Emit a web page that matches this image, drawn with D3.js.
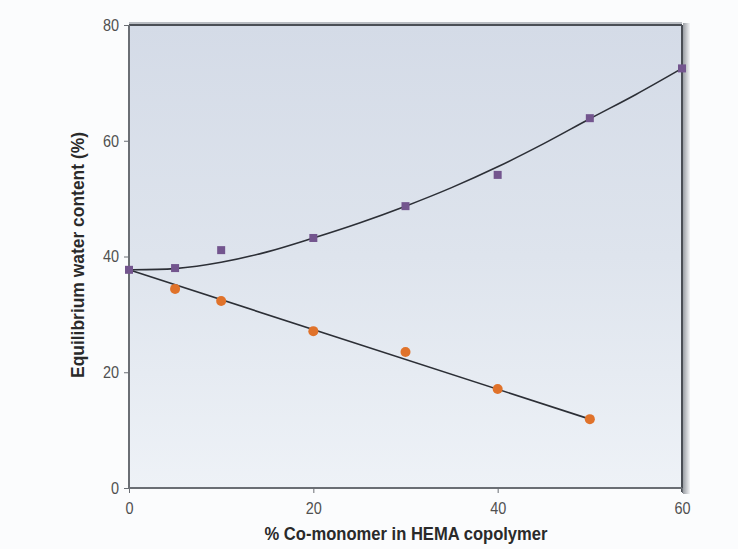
<!DOCTYPE html>
<html><head><meta charset="utf-8">
<script src="https://cdn.jsdelivr.net/npm/d3@7"></script>
<style>
html,body{margin:0;padding:0;background:#fbfcfd;}
svg{display:block;font-family:"Liberation Sans",Arial,sans-serif;}
</style></head>
<body>
<svg id="chart" width="738" height="549"></svg>
<script>
// Data
const coMonomerPct = [0, 5, 10, 20, 30, 40, 50, 60];
const squareSeries = [37.7, 38.0, 41.1, 43.2, 48.7, 54.1, 63.9, 72.5];
const circleX = [5, 10, 20, 30, 40, 50];
const circleSeries = [34.4, 32.3, 27.1, 23.5, 17.1, 11.9];
const curveFitX = [0, 5, 10, 15, 20, 25, 30, 35, 40, 45, 50, 55, 60];
const curveFitY = [37.7, 37.9, 39.0, 40.8, 43.2, 45.8, 48.7, 51.9, 55.5, 59.5, 63.8, 68.0, 72.5];
const lineFitX = [0, 50];
const lineFitY = [37.7, 11.9];
const xTicks = [0, 20, 40, 60];
const yTicks = [0, 20, 40, 60, 80];
const xTitle = "% Co-monomer in HEMA copolymer";
const yTitle = "Equilibrium water content (%)";

const svg = d3.select("#chart");
const m = {left:129, right:682, top:25, bottom:488};
const x = d3.scaleLinear().domain([0,60]).range([m.left, m.right]);
const y = d3.scaleLinear().domain([0,80]).range([m.bottom, m.top]);

const defs = svg.append("defs");
const g = defs.append("linearGradient").attr("id","bg").attr("x1",0).attr("x2",0).attr("y1",0).attr("y2",1);
g.append("stop").attr("offset","0%").attr("stop-color","#d4dbe7");
g.append("stop").attr("offset","50%").attr("stop-color","#dee4ed");
g.append("stop").attr("offset","100%").attr("stop-color","#eef2f7");
const sh = defs.append("linearGradient").attr("id","shadow").attr("x1",0).attr("x2",1);
sh.append("stop").attr("offset","0%").attr("stop-color","#9a9ea4");
sh.append("stop").attr("offset","100%").attr("stop-color","#f4f5f7");

// right shadow
svg.append("rect").attr("x", m.right+1).attr("y", m.top-2).attr("width", 7).attr("height", m.bottom-m.top+8).attr("fill","url(#shadow)");
// plot background
svg.append("rect").attr("x", m.left).attr("y", m.top).attr("width", m.right-m.left).attr("height", m.bottom-m.top).attr("fill","url(#bg)");
// top border
svg.append("line").attr("x1", m.left).attr("x2", m.right).attr("y1", m.top).attr("y2", m.top).attr("stroke","#4a4e55").attr("stroke-width",2);
svg.append("line").attr("x1", m.left).attr("x2", m.right).attr("y1", m.top-2).attr("y2", m.top-2).attr("stroke","#b8bcc2").attr("stroke-width",2);
// right border
svg.append("line").attr("x1", m.right).attr("x2", m.right).attr("y1", m.top).attr("y2", m.bottom+4).attr("stroke","#4a4e55").attr("stroke-width",2);

const font = "'Liberation Sans',Arial,sans-serif";
// axes
const xAxis = svg.append("g").attr("transform",`translate(0,${m.bottom})`)
  .call(d3.axisBottom(x).tickValues(xTicks).tickSize(5).tickPadding(9).tickFormat(d3.format("d")));
const yAxis = svg.append("g").attr("transform",`translate(${m.left},0)`)
  .call(d3.axisLeft(y).tickValues(yTicks).tickSize(5).tickPadding(5).tickFormat(d3.format("d")));
[xAxis, yAxis].forEach(a=>{
  a.attr("font-size",null).attr("font-family",null);
  a.select(".domain").attr("stroke","#6a6e74").attr("stroke-width",2);
  a.selectAll(".tick line").attr("stroke","#6a6e74").attr("stroke-width",1);
  a.selectAll(".tick text").attr("fill","#505050").style("font-size","17px").style("font-family",font)
    .attr("textLength", function(){ return this.getComputedTextLength()*0.85; }).attr("lengthAdjust","spacingAndGlyphs");
});
xAxis.select(".domain").attr("d", `M${m.left},0H${m.right}`);
yAxis.select(".domain").attr("d", `M0,${m.top}V${m.bottom}`);

// fit lines
svg.append("path").datum(curveFitX.map((d,i)=>[d,curveFitY[i]]))
  .attr("d", d3.line().x(d=>x(d[0])).y(d=>y(d[1])).curve(d3.curveCatmullRom))
  .attr("fill","none").attr("stroke","#2c2f36").attr("stroke-width",1.6);
svg.append("path").datum(lineFitX.map((d,i)=>[d,lineFitY[i]]))
  .attr("d", d3.line().x(d=>x(d[0])).y(d=>y(d[1])))
  .attr("fill","none").attr("stroke","#2c2f36").attr("stroke-width",1.6);

// circles
svg.selectAll("circle.pt").data(circleX.map((d,i)=>[d,circleSeries[i]])).join("circle")
  .attr("class","pt").attr("cx",d=>x(d[0])).attr("cy",d=>y(d[1])).attr("r",5)
  .attr("fill","#e0722a");
// squares
const s = 8;
svg.selectAll("rect.pt").data(coMonomerPct.map((d,i)=>[d,squareSeries[i]])).join("rect")
  .attr("class","pt").attr("x",d=>x(d[0])-s/2).attr("y",d=>y(d[1])-s/2).attr("width",s).attr("height",s)
  .attr("fill","#73558e");

// titles
svg.append("text").attr("x", 406).attr("y", 540).attr("text-anchor","middle")
  .style("font-size","18.5px").style("font-weight","bold").style("font-family",font).attr("fill","#2a2a2a")
  .attr("textLength",283).attr("lengthAdjust","spacingAndGlyphs").text(xTitle);
svg.append("text").attr("transform",`translate(84,255) rotate(-90)`).attr("text-anchor","middle")
  .style("font-size","18.5px").style("font-weight","bold").style("font-family",font).attr("fill","#2a2a2a")
  .attr("textLength",246).attr("lengthAdjust","spacingAndGlyphs").text(yTitle);
</script>
</body></html>
